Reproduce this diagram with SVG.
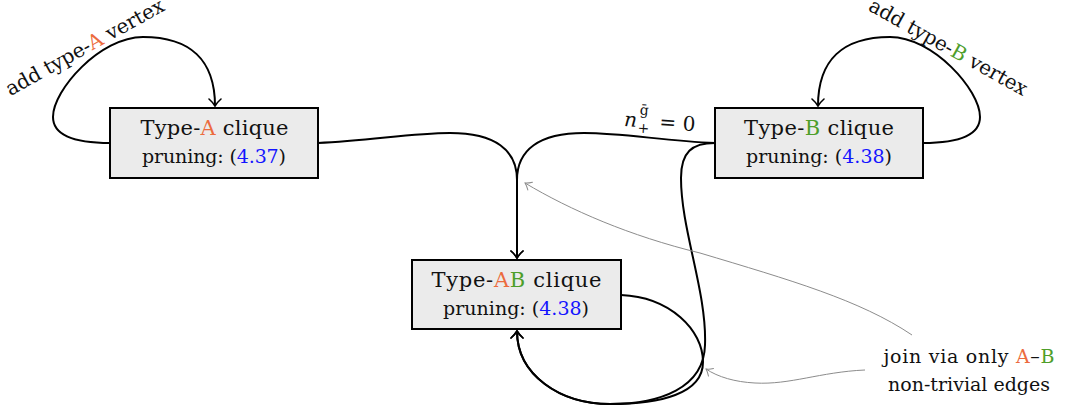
<svg xmlns="http://www.w3.org/2000/svg" width="1065" height="410" viewBox="0 0 1065 410">
<style>
.box{fill:#ebebeb;stroke:#000;stroke-width:2}
text{fill:#111;text-anchor:middle;font-family:"DejaVu Serif",serif}
.l1{font-size:21px}
.l2{font-size:19px}
.lb{font-size:20px}
.a{fill:#EC6B3E}
.b{fill:#4E9E2A}
.ref{fill:#1414ff}
.e{fill:none;stroke:#000;stroke-width:2}
.g{fill:none;stroke:#8c8c8c;stroke-width:1}
</style>
<defs>
<marker id="arr" markerUnits="userSpaceOnUse" markerWidth="16" markerHeight="16" viewBox="-9 -8 11 16" refX="0" refY="0" orient="auto" overflow="visible">
<path d="M-7,-6 C-4,-2.6 -1.2,-0.7 0,0 C-1.2,0.7 -4,2.6 -7,6" fill="none" stroke="#000" stroke-width="1.6" stroke-linecap="round"/>
</marker>
<marker id="garr" markerUnits="userSpaceOnUse" markerWidth="12" markerHeight="12" viewBox="-8 -6 9 12" refX="0" refY="0" orient="auto" overflow="visible">
<path d="M-6,-4.5 C-3.5,-2 -1,-0.5 0,0 C-1,0.5 -3.5,2 -6,4.5" fill="none" stroke="#8c8c8c" stroke-width="1" stroke-linecap="round"/>
</marker>
</defs>

<g id="connectors">
<path class="e" d="M110,143 C75,143 53,135 53,117 C53,90 100,37 143,37 C190,37 215,60 215,106" marker-end="url(#arr)"/>
<path class="e" d="M923,143 C958,143 980,135 980,117 C980,90 933,37 890,37 C843,37 818,60 818,106" marker-end="url(#arr)"/>
<path class="e" d="M318,143 C370,141 410,133 450,133 C495,133 517,150 517,180 L517,258" marker-end="url(#arr)"/>
<path class="e" d="M715,143 C664,141 624,133 584,133 C539,133 517,150 517,180 L517,258" marker-end="url(#arr)"/>
<path class="e" d="M715,143 C692,143 681,152 681,178 C681,230 707,292 705,345 C704,388 660,404 610,404 C560,404 517,375 517,331" marker-end="url(#arr)"/>
<path class="e" d="M621,295 C670,297 703,330 703,362 C703,394 660,404 610,404 C560,404 517,375 517,331" marker-end="url(#arr)"/>
<path class="g" d="M912,335 C860,300 790,280 700,253 C630,236 570,210 525,183" marker-end="url(#garr)"/>
<path class="g" d="M865,370 C820,372 790,385 755,383 C735,382 718,377 706,369" marker-end="url(#garr)"/>
</g>

<g id="labels">
<text class="lb" x="88" y="53" textLength="178" lengthAdjust="spacing" transform="rotate(-29 88 53)">add type-<tspan class="a">A</tspan> vertex</text>
<text class="lb" x="945" y="53" textLength="178" lengthAdjust="spacing" transform="rotate(29 945 53)">add type-<tspan class="b">B</tspan> vertex</text>
<g transform="rotate(4 660 128.6)">
<text x="630" y="128.6" font-size="20" font-style="italic">n</text>
<text x="643" y="116" font-size="14">ḡ</text>
<text x="643.5" y="134" font-size="14">+</text>
<text x="677" y="128.6" font-size="20">= 0</text>
</g>
<text class="l2" x="969" y="363" textLength="171" lengthAdjust="spacing">join via only <tspan class="a">A</tspan>–<tspan class="b">B</tspan></text>
<text class="l2" x="969" y="391" textLength="162" lengthAdjust="spacing">non-trivial edges</text>
</g>

<g id="nodeA">
<rect class="box" x="110" y="108" width="208" height="70"/>
<text class="l1" x="214.5" y="135" textLength="148" lengthAdjust="spacing">Type-<tspan class="a">A</tspan> clique</text>
<text class="l2" x="214" y="163" textLength="144" lengthAdjust="spacing">pruning: (<tspan class="ref">4.37</tspan>)</text>
</g>
<g id="nodeB">
<rect class="box" x="715" y="108" width="208" height="70"/>
<text class="l1" x="819" y="135" textLength="150" lengthAdjust="spacing">Type-<tspan class="b">B</tspan> clique</text>
<text class="l2" x="819" y="163" textLength="146" lengthAdjust="spacing">pruning: (<tspan class="ref">4.38</tspan>)</text>
</g>
<g id="nodeAB">
<rect class="box" x="412" y="260" width="209" height="69"/>
<text class="l1" x="516.5" y="287" textLength="170" lengthAdjust="spacing">Type-<tspan class="a">A</tspan><tspan class="b">B</tspan> clique</text>
<text class="l2" x="516" y="315" textLength="146" lengthAdjust="spacing">pruning: (<tspan class="ref">4.38</tspan>)</text>
</g>
</svg>
